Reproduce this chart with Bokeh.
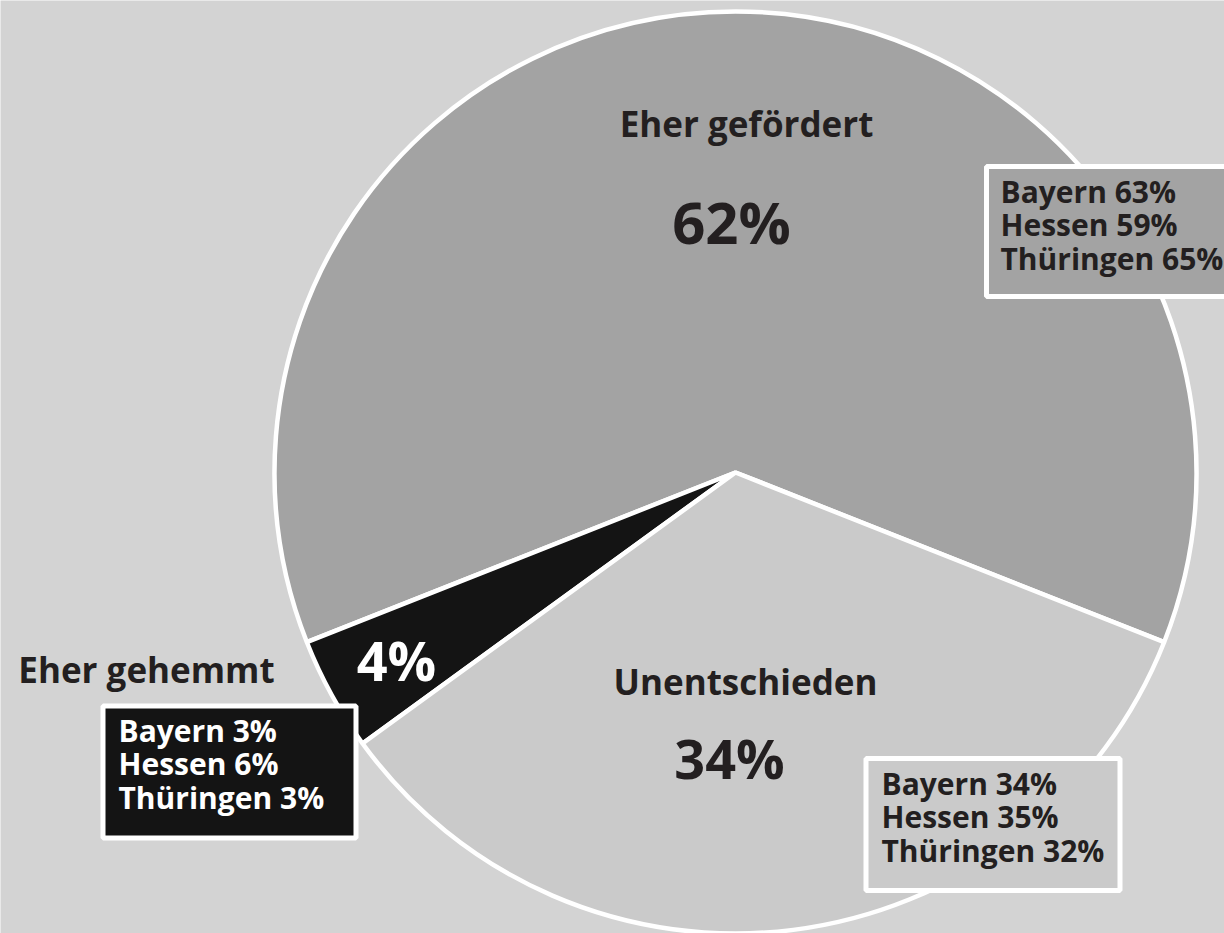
import math
from bokeh.plotting import figure
from bokeh.models import Range1d, ColumnDataSource
from bokeh.core.properties import value
from bokeh.embed import file_html
from bokeh.resources import INLINE

# ---- data ----
categories = ["Eher gefördert", "Eher gehemmt", "Unentschieden"]
totals = [62, 4, 34]
regions = ["Bayern", "Hessen", "Thüringen"]
by_region = {
    "Eher gefördert": [63, 59, 65],
    "Eher gehemmt": [3, 6, 3],
    "Unentschieden": [34, 35, 32],
}
colors = ["#a3a3a3", "#141414", "#cacaca"]

W, H = 1224, 933
BG = "#d3d3d3"
TXT = "#231f20"
FONT = "Open Sans"
BASE_FIX = 0.41  # baseline correction (fraction of font size)

def X(rx):  # reference pixel -> data x
    return rx

def Y(ry):  # reference pixel -> data y
    return H - ry

p = figure(width=W, height=H, output_backend="svg", toolbar_location=None,
           x_range=Range1d(0, W), y_range=Range1d(0, H), min_border=0)
p.axis.visible = False
p.grid.visible = False
p.outline_line_color = None
p.background_fill_color = BG
p.border_fill_color = BG

# ---- pie ----
start0 = math.radians(-21.6)
tot = float(sum(totals))
starts, ends = [], []
acc = start0
for v in totals:
    starts.append(acc)
    acc += 2 * math.pi * v / tot
    ends.append(acc)
src = ColumnDataSource(dict(start=starts, end=ends, color=colors, cat=categories))
p.wedge(x=X(735), y=Y(472), radius=461, start_angle="start", end_angle="end",
        fill_color="color", line_color="white", line_width=4.5, source=src)

# ---- labels ----
def txt(x, y, s, size, color=TXT, align="center"):
    p.text(x=[X(x)], y=[Y(y - BASE_FIX * size)], text=[s], text_font=value(FONT),
           text_font_style="bold", text_font_size=f"{size}px", text_color=color,
           text_align=align, text_baseline="alphabetic")

txt(746, 137, categories[0], 35)
txt(731, 245, f"{totals[0]}%", 58)
txt(745, 695, categories[2], 35)
txt(729, 780, f"{totals[2]}%", 54)
txt(146, 683, categories[1], 35)
txt(396, 682, f"{totals[1]}%", 54, color="white")

# ---- region boxes ----
boxes = [
    # category, left, right, top, bottom, text-left, first baseline, fill, text color
    ("Eher gefördert", 986, 1240, 166, 296, 1000, 203, colors[0], TXT),
    ("Unentschieden", 865.5, 1119.5, 758, 890, 881, 795, colors[2], TXT),
    ("Eher gehemmt", 102.5, 355.5, 705.5, 837.5, 118, 742, colors[1], "white"),
]
for cat, l, r, t, b, tx, ty, fc, tc in boxes:
    p.quad(left=[X(l)], right=[X(r)], top=[Y(t)], bottom=[Y(b)],
           fill_color=fc, line_color="white", line_width=5)
    for i, reg in enumerate(regions):
        txt(tx, ty + i * 33.5, f"{reg} {by_region[cat][i]}%", 30, color=tc, align="left")

open("out.html", "w").write(file_html(p, INLINE))
